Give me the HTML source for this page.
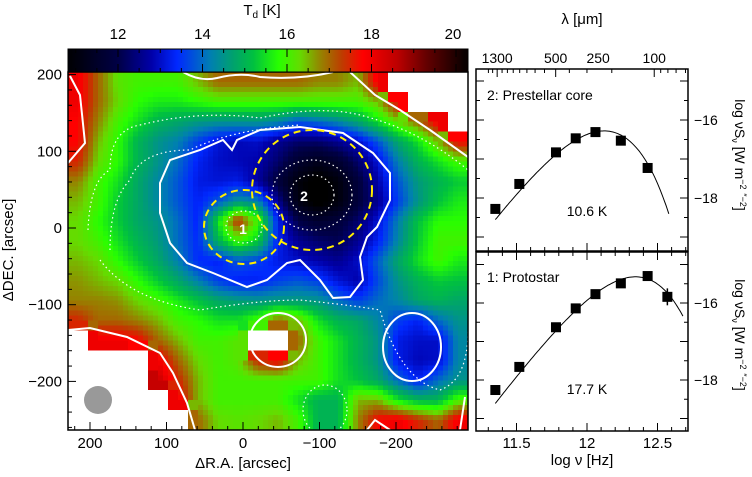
<!DOCTYPE html>
<html><head><meta charset="utf-8"><style>
html,body{margin:0;padding:0;background:#fff;}
svg{display:block;font-family:"Liberation Sans",sans-serif;}
</style></head><body>
<svg id="fig" width="752" height="477" viewBox="0 0 752 477" xmlns="http://www.w3.org/2000/svg">
<defs>
<clipPath id="mapclip"><rect x="68" y="72" width="400" height="358"/></clipPath>
<clipPath id="topclip"><rect x="476" y="69" width="212" height="181"/></clipPath>
<clipPath id="botclip"><rect x="476" y="252" width="212" height="179"/></clipPath>
<linearGradient id="cbgrad" x1="0" x2="1" y1="0" y2="0"></linearGradient>
</defs>
<g id="mapcells" clip-path="url(#mapclip)" shape-rendering="crispEdges"></g>
<g id="overlay" clip-path="url(#mapclip)" fill="none" stroke="#fff" stroke-width="2">
<path d="M160 183 L170 160 L200 150 L223 140 L232 150 L237 140 L260 130 L300 127 L343 133 L373 153 L390 173 L390 200 L377 227 L367 237 L360 257 L363 280 L350 297 L333 298 L320 280 L300 260 L287 263 L267 280 L247 287 L213 273 L187 263 L170 243 L160 213 Z"/>
<ellipse cx="278" cy="340" rx="28" ry="27"/>
<ellipse cx="412" cy="347" rx="29" ry="34"/>
<path d="M350 72 L375 95 L400 110 L430 130 L468 157"/>
<path d="M183 72 Q200 82 217 78 Q240 72 260 77 Q300 80 333 72"/>
<path d="M70 76 L80 95 L85 143 L68 163"/>
<path d="M68 330 L90 328 L127 337 L160 353 L173 373 L187 403 L195 430"/>
<path d="M367 430 L375 420 L390 430 M465 397 L460 430"/>
<g stroke-dasharray="1.5 3" stroke-width="1.2">
<path d="M88 230 Q90 180 110 170 Q110 130 140 125 Q200 110 260 118 Q320 105 360 115 Q420 130 468 170"/>
<path d="M110 250 Q110 200 130 180 Q140 150 190 150 Q230 130 300 125"/>
<path d="M100 260 Q130 300 200 310 Q260 300 300 300 Q350 305 380 310 Q400 380 440 390 Q468 380 468 330"/>
<ellipse cx="312" cy="195" rx="40" ry="35"/><ellipse cx="312" cy="195" rx="22" ry="20"/>
<ellipse cx="244" cy="227" rx="18" ry="16"/>
<ellipse cx="325" cy="410" rx="22" ry="25"/>
</g>
</g>
<g fill="none" stroke="#ffee00" stroke-width="2" stroke-dasharray="7 5">
<ellipse cx="312" cy="190" rx="60" ry="60"/>
<ellipse cx="244" cy="227" rx="40" ry="37"/>
</g>
<text x="243" y="234" fill="#fff" font-size="14" font-weight="bold" text-anchor="middle">1</text>
<text x="304" y="201" fill="#fff" font-size="14" font-weight="bold" text-anchor="middle">2</text>
<circle cx="98" cy="400" r="14" fill="#999"/>
<rect x="68" y="72" width="400" height="358" fill="none" stroke="#000" stroke-width="1.5"/>
<g id="mapticks" stroke="#000" stroke-width="1"></g>
<g id="maplabels" font-size="15" text-anchor="middle"></g>
<text x="243" y="468" font-size="15" text-anchor="middle">ΔR.A. [arcsec]</text>
<text transform="translate(13,250) rotate(-90)" font-size="15" text-anchor="middle">ΔDEC. [arcsec]</text>
<rect x="68" y="49" width="400" height="23" fill="url(#cbgrad)"/>
<rect x="68" y="49" width="400" height="23" fill="none" stroke="#000"/>
<g id="cbticks" stroke="#000"></g>
<g id="cblabels" font-size="15" text-anchor="middle"></g>
<text x="262" y="15" font-size="15" text-anchor="middle">T<tspan font-size="10" dy="3">d</tspan><tspan dy="-3"> [K]</tspan></text>

<g id="sedtop"></g>
<g id="sedbot"></g>
<text x="487" y="100" font-size="14">2: Prestellar core</text>
<text x="587" y="216" font-size="14" text-anchor="middle">10.6 K</text>
<text x="487" y="282" font-size="14">1: Protostar</text>
<text x="587" y="394" font-size="14" text-anchor="middle">17.7 K</text>
<text x="582" y="465" font-size="15" text-anchor="middle">log ν [Hz]</text>
<text x="582" y="24" font-size="15" text-anchor="middle">λ [μm]</text>
<text transform="translate(735,155) rotate(90)" font-size="14" text-anchor="middle">log νS<tspan font-size="9" dy="3">ν</tspan><tspan dy="-3"> [W m</tspan><tspan font-size="9" dy="-5">−2</tspan><tspan dy="5"> </tspan><tspan font-size="9" dy="-5">″−2</tspan><tspan dy="5">]</tspan></text>
<text transform="translate(735,335) rotate(90)" font-size="14" text-anchor="middle">log νS<tspan font-size="9" dy="3">ν</tspan><tspan dy="-3"> [W m</tspan><tspan font-size="9" dy="-5">−2</tspan><tspan dy="5"> </tspan><tspan font-size="9" dy="-5">″−2</tspan><tspan dy="5">]</tspan></text>
</svg>
<script>
// ---- Map data: dust temperature (K), rows top->bottom, cols left->right; null = no data
const tGrid = [
[18,17,16.2,16,16,16,16.5,17,17,17,17,17,16.8,16.8,16.5,18,null,null,null,null],
[18,17,16.3,15.8,15.6,15.6,15.8,16,16,16,16,16,16,16,16,16.5,17.8,null,null,null],
[17.8,16.8,16,15.5,15,14.8,14.6,14.5,14.5,14.5,14.3,13.8,14,14.3,14.8,15.5,16.3,17,18,null],
[17.8,16.5,15.8,15,14.5,14.2,13.6,13.1,12.9,13,12.6,12.3,12.3,12.6,13,13.8,14.8,15.5,16.5,17.8],
[17.5,16.3,15.8,15,14.5,14,13.3,13,12.9,12.8,12.3,11.6,11.3,11.6,12.3,13.1,14.2,15,15.5,16],
[16.8,16,15.5,14.8,14.3,13.8,13.2,13.1,13.2,12.7,11.8,11,10.6,11,11.8,12.8,13.8,14.6,15,15.3],
[16.5,16,15.3,14.8,14.3,13.8,13.3,13.8,14.5,14.2,12.6,11.1,10.6,11,11.8,12.6,13.6,14.5,15.2,15.6],
[16.3,15.8,15.3,14.8,14.5,14,13.3,15.5,17.5,16,13.3,12,11.6,11.8,12.3,13.1,14.2,15.2,15.8,15.8],
[16.3,16,15.5,15,14.6,14,13.4,15,16,15.3,13.3,12.6,12.3,12.1,12.6,13.3,14.3,15.3,16,16],
[16.5,16.3,15.8,15.3,14.8,14.2,13.4,13.3,13.8,13.6,13.2,13,12.8,12.6,13,13.9,14.8,15.5,16,15.6],
[16.7,16.5,16.3,15.8,15.3,14.8,14.2,13.6,13.3,13.3,13.6,13.8,13.6,13.1,12.8,13.7,14.5,15,15.3,15.2],
[16.8,16.8,16.7,16.3,16,15.6,15.2,14.8,14.6,14.5,14.6,14.6,14.5,14,13.6,14,14.3,14.8,15,14.8],
[17.5,17,17,16.8,16.5,16,15.8,15.5,15.5,16,17,16.5,15.5,15,14.8,14.3,13.6,13.3,14,14.5],
[null,18,18,17.8,17,16.5,16,16,16.2,null,null,17,16,15.5,15,14.5,13.2,13,13,14.3],
[null,null,null,null,18,17,16.3,16,16.2,17.5,17.8,16.5,16,15.5,15,14.5,13.2,12.9,13,14.3],
[null,null,null,null,18.5,17.5,16.5,16,16,16,16,16,16,15.5,15.2,14.8,14,13.3,14,14.5],
[null,null,null,null,null,18,16.5,16,16,16,16,15.5,15,15,16.5,16.5,15.5,15,15,16],
[null,null,null,null,null,null,17,16.3,16.2,16.3,16.5,16,15,15,16.8,17.8,18,17.5,17,18]
];
const cbTickLabels = [12,14,16,18,20];
const xTickLabels = [200,100,0,-100,-200];
const yTickLabels = [200,100,0,-100,-200];
// ---- SED data
const sedLogNu = [11.35,11.52,11.78,11.92,12.06,12.24,12.43];
const sedLogNuBot = [11.35,11.52,11.78,11.92,12.06,12.24,12.43,12.57];
const sedTopVals = [-18.28,-17.64,-16.83,-16.47,-16.31,-16.53,-17.23];
const sedBotVals = [-18.26,-17.66,-16.63,-16.14,-15.77,-15.49,-15.30,-15.84];
const sedBotErr = [0.05,0.05,0.05,0.05,0.05,0.12,0.08,0.22];
const sedTopErr = [0.05,0.05,0.05,0.05,0.05,0.1,0.08];
const lambdaLabels = [1300,500,250,100];
const sedTempTop = 10.6, sedTempBot = 17.7;
const sedPeakTop = -16.28, sedPeakBot = -15.32;
const sedYTicks = [-16,-18];

const NS='http://www.w3.org/2000/svg';
function mk(tag,attrs,parent){const e=document.createElementNS(NS,tag);for(const k in attrs)e.setAttribute(k,attrs[k]);parent.appendChild(e);return e;}

const cmapStops=[[10.8,[0,0,0]],[12,[0,0,70]],[12.8,[0,0,170]],[13.4,[0,40,255]],[14.2,[0,128,176]],[14.7,[0,160,112]],[15.2,[0,192,64]],[15.8,[40,255,0]],[16.3,[100,220,0]],[16.8,[150,130,0]],[17.3,[190,60,0]],[17.8,[255,0,0]],[18.6,[190,0,0]],[19.3,[100,0,0]],[20.3,[0,0,0]]];
function cmap(t){
  if(t<=cmapStops[0][0])return 'rgb(0,0,0)';
  for(let i=1;i<cmapStops.length;i++){
    if(t<=cmapStops[i][0]){const a=cmapStops[i-1],b=cmapStops[i];const f=(t-a[0])/(b[0]-a[0]);
      const c=a[1].map((v,k)=>Math.round(v+(b[1][k]-v)*f));return 'rgb('+c.join(',')+')';}
  }
  return 'rgb(0,0,0)';
}
const MX0=68,MY0=72,MW=400,MH=358;
const xPix=a=>243-a*0.765, yPix=d=>228-d*0.767;
const rows=tGrid.length, cols=tGrid[0].length, cw=MW/cols, ch=MH/rows;
const cellsG=document.getElementById('mapcells');
function val(i,j){i=Math.max(0,Math.min(cols-1,i));j=Math.max(0,Math.min(rows-1,j));return tGrid[j][i];}
// bilinear-smoothed rendering of the grid in sub-cells
const SUB=4;
for(let j=0;j<rows*SUB;j++){
  for(let i=0;i<cols*SUB;i++){
    const u=(i+0.5)/SUB-0.5, v=(j+0.5)/SUB-0.5;
    const i0=Math.floor(u), j0=Math.floor(v), fu=u-i0, fv=v-j0;
    const a=val(i0,j0),b=val(i0+1,j0),c=val(i0,j0+1),d=val(i0+1,j0+1);
    let t;
    if(a===null||b===null||c===null||d===null){t=val(Math.round(u),Math.round(v));}
    else t=a*(1-fu)*(1-fv)+b*fu*(1-fv)+c*(1-fu)*fv+d*fu*fv;
    const r=mk('rect',{x:(MX0+i*cw/SUB).toFixed(2),y:(MY0+j*ch/SUB).toFixed(2),width:(cw/SUB+0.6).toFixed(2),height:(ch/SUB+0.6).toFixed(2),fill:t===null?'#fff':cmap(t)},cellsG);
    
    
  }
}
const mt=document.getElementById('mapticks'), ml=document.getElementById('maplabels');
for(let a=-280;a<=220;a+=20){const x=xPix(a);if(x<MX0||x>MX0+MW)continue;const L=a%100===0?8:4;
  mk('line',{x1:x,y1:MY0+MH,x2:x,y2:MY0+MH-L},mt);}
for(let d=-260;d<=200;d+=20){const y=yPix(d);if(y<MY0||y>MY0+MH)continue;const L=d%100===0?8:4;
  mk('line',{x1:MX0,y1:y,x2:MX0+L,y2:y},mt);}
xTickLabels.forEach(v=>{const t=mk('text',{x:xPix(v),y:448},ml);t.textContent=v<0?'−'+(-v):v;
  });
yTickLabels.forEach(v=>{const t=mk('text',{x:62,y:yPix(v)+5,'text-anchor':'end'},ml);t.textContent=v<0?'−'+(-v):v;
  });
const cbX=T=>118+(T-12)*42.25;
const grad=document.getElementById('cbgrad');
for(let T=10.8;T<=20.3;T+=0.1){const off=(cbX(T)-68)/400;if(off<0||off>1)continue;
  mk('stop',{offset:off,'stop-color':cmap(T)},grad);}
const cbt=document.getElementById('cbticks'), cbl=document.getElementById('cblabels');
for(let T=11;T<=20;T+=0.5){const x=cbX(T);const L=(T%2===0)?8:4;
  mk('line',{x1:x,y1:72,x2:x,y2:72-L},cbt);mk('line',{x1:x,y1:49,x2:x,y2:49+L},cbt);}
cbTickLabels.forEach(v=>{const t=mk('text',{x:cbX(v)-(v===20?3:0),y:39},cbl);t.textContent=v;
  });

const sxPix=v=>587+(v-12)*141;
function sedModel(logNu,T){const nu=Math.pow(10,logNu);const x=4.799e-11*nu/T;return 6*logNu-Math.log10(Math.exp(x)-1);}
function drawPanel(gid,y0,y1,clip,yAt16,ppu,xs,vals,errs,T,peak,xEnd,hasLambda){
  const g=document.getElementById(gid);const yPx=v=>yAt16-(v+16)*ppu;
  mk('rect',{x:476,y:y0,width:212,height:y1-y0,fill:'none',stroke:'#000','stroke-width':1.5},g);
  for(let v=11.3;v<=12.7;v+=0.1){const x=sxPix(v);const L=Math.abs(v*2-Math.round(v*2))<0.01?8:4;
    mk('line',{x1:x,y1:y1,x2:x,y2:y1-L,stroke:'#000'},g);
    if(!hasLambda)mk('line',{x1:x,y1:y0,x2:x,y2:y0+L,stroke:'#000'},g);}
  for(let v=-20;v<=-14;v+=0.5){const y=yPx(v);if(y<y0+2||y>y1-2)continue;const L=(v%1===0)?8:4;
    mk('line',{x1:476,y1:y,x2:476+L,y2:y,stroke:'#000'},g);mk('line',{x1:688,y1:y,x2:688-L,y2:y,stroke:'#000'},g);}
  sedYTicks.forEach(v=>{const t=mk('text',{x:694,y:yPx(v)+5,'font-size':14},g);t.textContent='−'+(-v);
    });
  let best=-1e9;for(let v=11;v<=13;v+=0.005)best=Math.max(best,sedModel(v,T));
  let d='';for(let v=11.35;v<=xEnd;v+=0.01){const y=yPx(sedModel(v,T)-best+peak);d+=(d?'L':'M')+sxPix(v).toFixed(1)+' '+y.toFixed(1);}
  const c=mk('path',{d:d,fill:'none',stroke:'#000','stroke-width':1,'clip-path':'url(#'+clip+')'},g);
  
  xs.forEach((v,i)=>{const x=sxPix(v),y=yPx(vals[i]);
    const e=mk('line',{x1:x,x2:x,y1:yPx(vals[i]+errs[i]),y2:yPx(vals[i]-errs[i]),stroke:'#000','stroke-width':1.5},g);
    
    const p=mk('rect',{x:x-5,y:y-5,width:10,height:10,fill:'#000'},g);
    });
  if(hasLambda){
    for(let lam=60;lam<=1500;){const v=Math.log10(2.998e14/lam);const x=sxPix(v);
      if(x>476&&x<688){const major=lambdaLabels.indexOf(lam)>=0;mk('line',{x1:x,y1:y0,x2:x,y2:y0+(major?8:4),stroke:'#000'},g);}
      lam+=lam<100?10:100;}
    lambdaLabels.forEach(l=>{const t=mk('text',{x:sxPix(Math.log10(2.998e14/l)),y:63,'font-size':14,'text-anchor':'middle'},g);t.textContent=l;
      });
  } else {
    [11.5,12,12.5].forEach(v=>{const t=mk('text',{x:sxPix(v),y:448,'font-size':15,'text-anchor':'middle'},g);t.textContent=v===12?'12':v;
      });
  }
}
drawPanel('sedtop',69,251,'topclip',120,39,sedLogNu,sedTopVals,sedTopErr,sedTempTop,sedPeakTop,12.58,true);
drawPanel('sedbot',252,431,'botclip',303,38.5,sedLogNuBot,sedBotVals,sedBotErr,sedTempBot,sedPeakBot,12.68,false);
</script>
</body></html>
